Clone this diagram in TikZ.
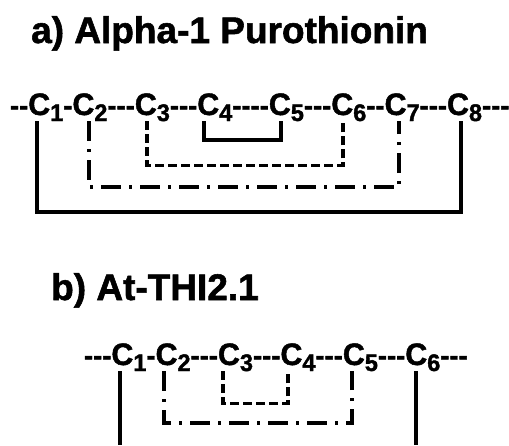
\documentclass[tikz,border=0pt]{standalone}
\usepackage{fontspec}
\setmainfont[BoldFeatures={FakeBold=1.5}]{Liberation Sans}
\newfontfamily\rowfont[FakeStretch=0.98, BoldFeatures={FakeBold=1.5}]{Liberation Sans}
\newcommand\hy{-\kern0pt}
\newcommand\cc[1]{{\fontsize{31}{31}\selectfont C}\raisebox{-6pt}{\fontsize{24}{24}\selectfont #1}}
\tikzset{
  rt/.style={inner sep=0pt, outer sep=0pt, anchor=base west,
             font=\rowfont\bfseries\fontsize{28}{28}\selectfont},
  tt/.style={inner sep=0pt, anchor=base west,
             font=\bfseries\fontsize{37}{37}\selectfont},
  bond/.style={line width=3.2pt},
  bondd/.style={bond, dash pattern=on 9pt off 4pt},
  bonddd/.style={bond, dash pattern=on 20pt off 8pt on 3pt off 8pt},
}
\begin{document}
\begin{tikzpicture}[x=1pt,y=-1pt]
\useasboundingbox (0,0) rectangle (509,445);
% titles
\node[tt] (ta) at (31,43) {a) Alpha-1 Purothionin};
\node[tt] (tb) at (51,300) {b) At-THI2.1};
% row a
\node[rt] (ha0) at (10,115) {\hy\hy};
\node[rt] (a1) at (ha0.base east) {\cc1};
\node[rt] (ha1) at (a1.base east) {\hy};
\node[rt] (a2) at (ha1.base east) {\cc2};
\node[rt] (ha2) at (a2.base east) {\hy\hy\hy};
\node[rt] (a3) at (ha2.base east) {\cc3};
\node[rt] (ha3) at (a3.base east) {\hy\hy\hy};
\node[rt] (a4) at (ha3.base east) {\cc4};
\node[rt] (ha4) at (a4.base east) {\hy\hy\hy\hy};
\node[rt] (a5) at (ha4.base east) {\cc5};
\node[rt] (ha5) at (a5.base east) {\hy\hy\hy};
\node[rt] (a6) at (ha5.base east) {\cc6};
\node[rt] (ha6) at (a6.base east) {\hy\hy};
\node[rt] (a7) at (ha6.base east) {\cc7};
\node[rt] (ha7) at (a7.base east) {\hy\hy\hy};
\node[rt] (a8) at (ha7.base east) {\cc8};
\node[rt] (ha8) at (a8.base east) {\hy\hy\hy};
% row a bonds
\draw[bond]   (a4.south -| 204,0) -- ++(0,19) -| (a5.south -| 281,0);
\draw[bondd]  (a3.south -| 147,0) -- ++(0,44) -| (a6.south -| 343,0);
\draw[bonddd] (a2.south -| 89,0)  -- ++(0,66) -| (a7.south -| 399,0);
\draw[bond]   (a1.south -| 37,0)  -- ++(0,91) -| (a8.south -| 461,0);
% row b
\node[rt] (hb0) at (84,365) {\hy\hy\hy};
\node[rt] (b1) at (hb0.base east) {\cc1};
\node[rt] (hb1) at (b1.base east) {\hy};
\node[rt] (b2) at (hb1.base east) {\cc2};
\node[rt] (hb2) at (b2.base east) {\hy\hy\hy};
\node[rt] (b3) at (hb2.base east) {\cc3};
\node[rt] (hb3) at (b3.base east) {\hy\hy\hy};
\node[rt] (b4) at (hb3.base east) {\cc4};
\node[rt] (hb4) at (b4.base east) {\hy\hy\hy};
\node[rt] (b5) at (hb4.base east) {\cc5};
\node[rt] (hb5) at (b5.base east) {\hy\hy\hy};
\node[rt] (b6) at (hb5.base east) {\cc6};
\node[rt] (hb6) at (b6.base east) {\hy\hy\hy};
% row b bonds
\coordinate (e1) at (120,445);
\coordinate (e6) at (416,445);
\draw[bondd]  (b3.south -| 223,0) -- ++(0,32) -| (b4.south -| 288,0);
\draw[bonddd] (b2.south -| 164,0) -- ++(0,52) -| (b5.south -| 352,0);
\draw[bond]   (b1.south -| 120,0) -- (e1);
\draw[bond]   (b6.south -| 416,0) -- (e6);
\end{tikzpicture}
\end{document}
